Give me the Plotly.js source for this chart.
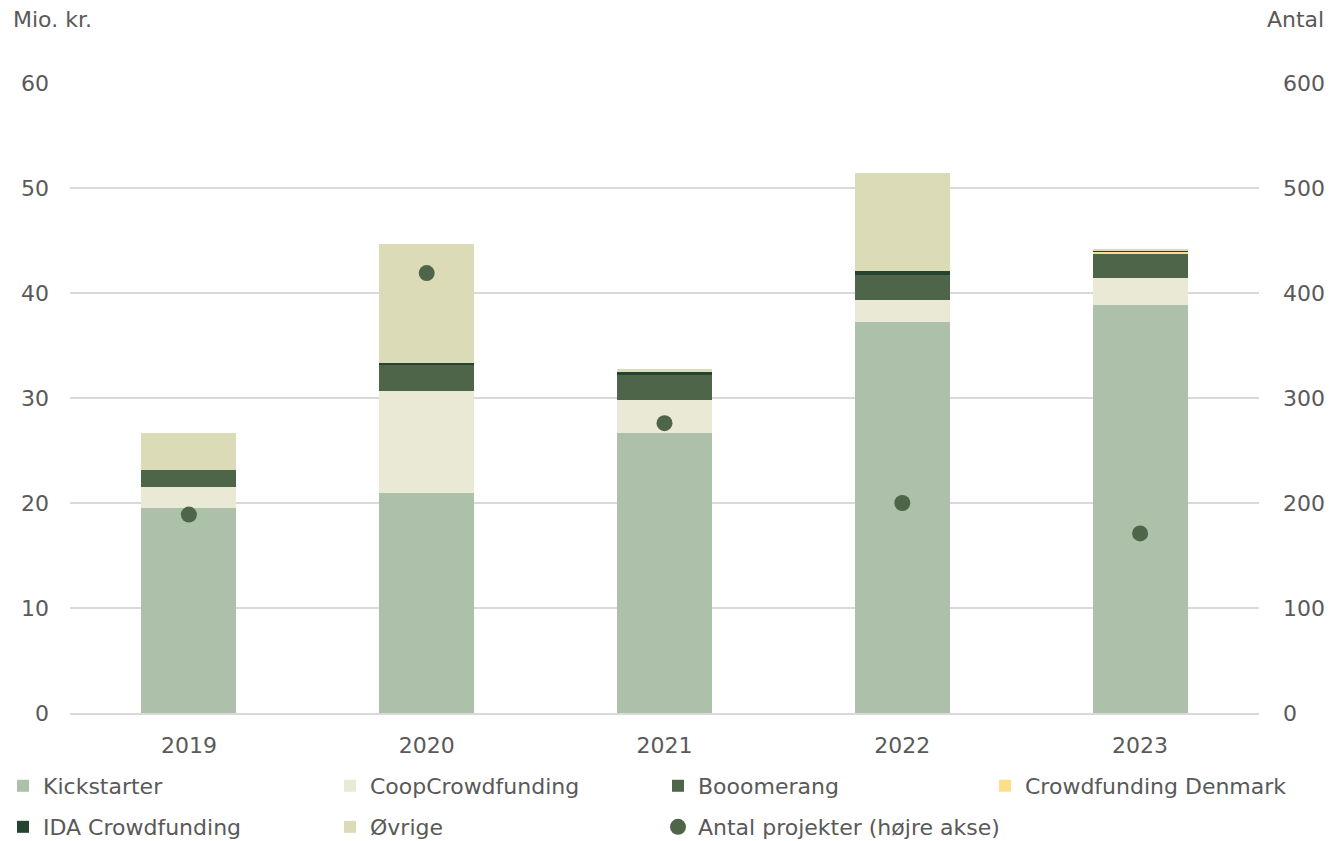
<!DOCTYPE html>
<html><head><meta charset="utf-8">
<script src="https://cdn.plot.ly/plotly-3.0.1.min.js"></script>
<style>body{margin:0;background:#fff}#chart{width:1332px;height:841px}</style>
</head><body><div id="chart"></div>
<script>
const years = ['2019','2020','2021','2022','2023'];
const kickstarter = [19.5, 20.95, 26.7, 37.2, 38.9];
const coop = [2.0, 9.7, 3.1, 2.1, 2.5];
const booomerang = [1.6, 2.5, 2.4, 2.45, 2.4];
const cfDenmark = [0, 0, 0, 0, 0.15];
const ida = [0, 0.2, 0.3, 0.3, 0.05];
const ovrige = [3.6, 11.35, 0.25, 9.4, 0.1];
const antal = [189, 419, 276, 200, 171];

const seriesNames = ['Kickstarter','CoopCrowdfunding','Booomerang','Crowdfunding Denmark','IDA Crowdfunding','Øvrige'];
const seriesVals = [kickstarter, coop, booomerang, cfDenmark, ida, ovrige];
const colors = ['#adc0a9','#eae9d6','#4e654a','#fddf8a','#25442f','#dbdcb7'];
const font = {family:'"DejaVu Sans", sans-serif', size:22, color:'#595959'};

// legend slot per trace: [column, row]
const legendIds = ['legend','legend2','legend3','legend4','legend5','legend6','legend7'];
const slots = [[0,0],[1,0],[2,0],[3,0],[0,1],[1,1],[2,1]];
const colText = [43, 370, 698, 1025];
const rowTop = [0.0904, 0.0416];

const traces = seriesNames.map((n,i)=>({
  type:'bar', name:n, x:years, y:seriesVals[i], marker:{color:colors[i]}, hoverinfo:'y+name', legend:legendIds[i]
}));
traces.push({type:'scatter', mode:'markers', name:'Antal projekter (højre akse)', x:years, y:antal, yaxis:'y2',
  marker:{color:'#4e654a', size:16}, legend:legendIds[6]});

const layout = {
  width:1332, height:841,
  margin:{l:70, r:73, t:83, b:128, autoexpand:false},
  barmode:'stack', bargap:0.6,
  font:font,
  paper_bgcolor:'#fff', plot_bgcolor:'#fff',
  xaxis:{type:'category', showgrid:false, showline:true, linecolor:'#d9d9d9', linewidth:1.5, ticks:'', ticklabelstandoff:12, tickfont:font},
  yaxis:{range:[0,60], dtick:10, showgrid:true, gridcolor:'#d9d9d9', gridwidth:1.5, zeroline:false, ticks:'', ticklabelstandoff:20, tickfont:font},
  yaxis2:{range:[0,600], dtick:100, overlaying:'y', side:'right', showgrid:false, zeroline:false, ticks:'', ticklabelstandoff:23, tickfont:font},
  annotations:[
    {text:'Mio. kr.', xref:'paper', yref:'paper', x:-0.0495, y:1.1, xanchor:'left', yanchor:'middle', showarrow:false, font:font},
    {text:'Antal', xref:'paper', yref:'paper', x:1.056, y:1.1, xanchor:'right', yanchor:'middle', showarrow:false, font:font}
  ],
  showlegend:true
};
legendIds.forEach((id,i)=>{
  const [c,r] = slots[i];
  layout[id] = {orientation:'h', x:(colText[c]-40)/1332, xanchor:'left', y:rowTop[r], yanchor:'top',
    xref:'container', yref:'container', font:font, itemwidth:30, bgcolor:'rgba(0,0,0,0)'};
});
Plotly.newPlot('chart', traces, layout, {displayModeBar:false});
</script></body></html>
